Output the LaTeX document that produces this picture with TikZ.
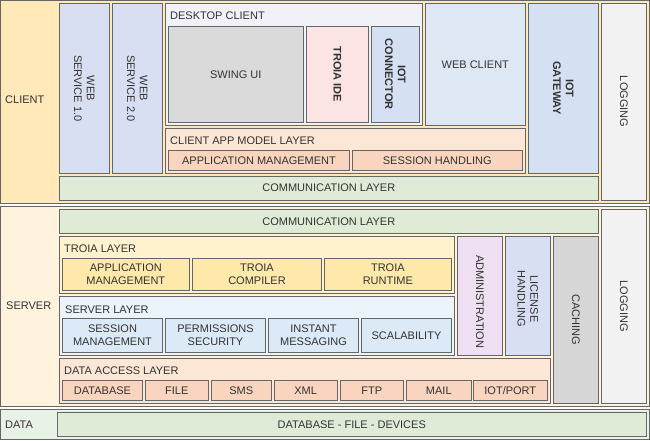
\documentclass[tikz,border=0pt]{standalone}
\usepackage{fontspec}
\setmainfont{Liberation Sans}
\usetikzlibrary{positioning}

\definecolor{edgegray}{HTML}{666666}
\definecolor{txtgray}{HTML}{333333}
\definecolor{clientbg}{HTML}{FFE9B8}
\definecolor{serverbg}{HTML}{FFF3DE}
\definecolor{databg}{HTML}{E9F2E6}
\definecolor{commgreen}{HTML}{DFEBD7}
\definecolor{wsblue}{HTML}{D9DFF3}
\definecolor{deskgray}{HTML}{F0F2F7}
\definecolor{swinggray}{HTML}{DADADA}
\definecolor{idepink}{HTML}{FCE4E4}
\definecolor{iotblue}{HTML}{D5E1F3}
\definecolor{webblue}{HTML}{DEE8F5}
\definecolor{loggray}{HTML}{F2F2F2}
\definecolor{peachbg}{HTML}{FCE6D6}
\definecolor{peach}{HTML}{F9D4BE}
\definecolor{troiabg}{HTML}{FFF2CC}
\definecolor{troiayel}{HTML}{FFE9AA}
\definecolor{srvbg}{HTML}{EBF3FB}
\definecolor{srvblue}{HTML}{DCE9F6}
\definecolor{adminpurple}{HTML}{EEE0F2}
\definecolor{cachegray}{HTML}{D6D6D6}

\tikzset{
    box/.style={draw=edgegray, line width=0.8pt, anchor=north west, inner sep=0pt, outer sep=0pt,
        text=txtgray, font=\fontsize{11}{12.7}\selectfont, align=center},
    sz/.style 2 args={minimum width=#1pt, minimum height=#2pt},
    txt/.style={text=txtgray, font=\fontsize{11}{12.7}\selectfont, align=center, inner sep=0pt},
    head/.style={txt, anchor=west},
    vtxt/.style={txt, rotate=-90}
}

\begin{document}
\begin{tikzpicture}[x=1pt,y=-1pt]
    \useasboundingbox (0,0) rectangle (650,440);

    % Tiers
    \node[box, sz={648.6}{202.3}, fill=clientbg] (client) at (0.7,0.7) {};
    \node[box, sz={648.6}{199.3}, fill=serverbg] (server) at (0.7,206.7) {};
    \node[box, sz={648.6}{30.3}, fill=databg] (data) at (0.7,409) {};
    \node[head] (clientlbl) at (5,100) {CLIENT};
    \node[head] (serverlbl) at (6,306) {SERVER};
    \node[head] (datalbl) at (5,425) {DATA};

    % Client tier
    \node[box, sz={50}{170}, fill=wsblue] (ws1) at (59.3,3.3) {};
    \node[vtxt] at (ws1.center) {WEB\\SERVICE 1.0};
    \node[box, sz={50}{170}, fill=wsblue] (ws2) at (112.3,3.3) {};
    \node[vtxt] at (ws2.center) {WEB\\SERVICE 2.0};

    \node[box, sz={257}{122}, fill=deskgray] (desktop) at (165.3,3.3) {};
    \node[head] (desktoplbl) at (170,16) {DESKTOP CLIENT};
    \node[box, sz={135}{96}, fill=swinggray] (swing) at (168.3,26.3) {SWING UI};
    \node[box, sz={62}{96}, fill=idepink] (ide) at (306.3,26.3) {};
    \node[vtxt, font=\fontsize{11}{12.7}\selectfont\bfseries] at (ide.center) {TROIA IDE};
    \node[box, sz={48}{96}, fill=iotblue] (iotconn) at (371.3,26.3) {};
    \node[vtxt, font=\fontsize{11}{12.7}\selectfont\bfseries] at (iotconn.center) {IOT\\CONNECTOR};

    \node[box, sz={100}{122}, fill=webblue] (webclient) at (425.3,3.3) {WEB CLIENT};
    \node[box, sz={70}{170}, fill=iotblue] (iotgw) at (528.3,3.3) {};
    \node[vtxt, font=\fontsize{11}{12.7}\selectfont\bfseries] at (iotgw.center) {IOT\\GATEWAY};
    \node[box, sz={45}{196.7}, fill=loggray] (logclient) at (601.3,3.3) {};
    \node[vtxt] at (logclient.center) {LOGGING};

    \node[box, sz={360}{45}, fill=peachbg] (appmodel) at (165.3,128.3) {};
    \node[head] (appmodellbl) at (170,141) {CLIENT APP MODEL LAYER};
    \node[box, sz={181.4}{20}, fill=peach] (appmgmt) at (168.3,150.3) {APPLICATION MANAGEMENT};
    \node[box, sz={170}{20}, fill=peach] (session) at (352.3,150.3) {SESSION HANDLING};

    \node[box, sz={539}{23.7}, fill=commgreen] (commclient) at (59.3,176.3) {COMMUNICATION LAYER};

    % Server tier
    \node[box, sz={539}{24}, fill=commgreen] (commserver) at (59.3,209.3) {COMMUNICATION LAYER};
    \node[box, sz={45}{193.7}, fill=loggray] (logserver) at (601.3,209.3) {};
    \node[vtxt] at (logserver.center) {LOGGING};

    \node[box, sz={395}{57}, fill=troiabg] (troia) at (59.3,236.3) {};
    \node[head] (troialbl) at (64,249) {TROIA LAYER};
    \foreach \x/\w/\nm/\txt in {62.3/127/tappmgmt/{APPLICATION\\MANAGEMENT},
        192.3/129.4/tcompiler/{TROIA\\COMPILER}, 324/127.7/truntime/{TROIA\\RUNTIME}}
        \node[box, sz={\w}{32}, fill=troiayel] (\nm) at (\x,258.3) {\txt};

    \node[box, sz={395}{59}, fill=srvbg] (srvlayer) at (59.3,296.3) {};
    \node[head] (srvlayerlbl) at (65,309.3) {SERVER LAYER};
    \foreach \x/\w/\nm/\txt in {62.3/100.4/ssession/{SESSION\\MANAGEMENT},
        165.3/100.4/sperm/{PERMISSIONS\\SECURITY}, 268.3/90.4/sinstant/{INSTANT\\MESSAGING},
        361.3/90.4/sscale/{SCALABILITY}}
        \node[box, sz={\w}{34}, fill=srvblue] (\nm) at (\x,318.3) {\txt};

    \node[box, sz={491}{44.7}, fill=peachbg] (dal) at (59.3,358.3) {};
    \node[head] (dallbl) at (64,371) {DATA ACCESS LAYER};
    \foreach \x/\w/\nm/\txt in {62.3/80.4/dbase/DATABASE, 145.3/63/dfile/FILE, 211.3/60/dsms/SMS,
        274/63.3/dxml/XML, 340.3/63/dftp/FTP, 406.3/65/dmail/MAIL, 473.3/74/diot/{IOT/PORT}}
        \node[box, sz={\w}{20}, fill=peach] (\nm) at (\x,380.3) {\txt};

    \node[box, sz={45}{119}, fill=adminpurple] (admin) at (457.3,236.3) {};
    \node[vtxt] at ([yshift=-6pt]admin.center) {ADMINISTRATION};
    \node[box, sz={45}{119}, fill=wsblue] (license) at (505.3,236.3) {};
    \node[vtxt] at ([yshift=-3pt]license.center) {LICENSE\\HANDLING};
    \node[box, sz={45}{166.7}, fill=cachegray] (caching) at (553.3,236.3) {};
    \node[vtxt] at (caching.center) {CACHING};

    % Data tier
    \node[box, sz={589}{24}, fill=commgreen] (storage) at (57.3,412.3) {DATABASE - FILE - DEVICES};
\end{tikzpicture}
\end{document}
